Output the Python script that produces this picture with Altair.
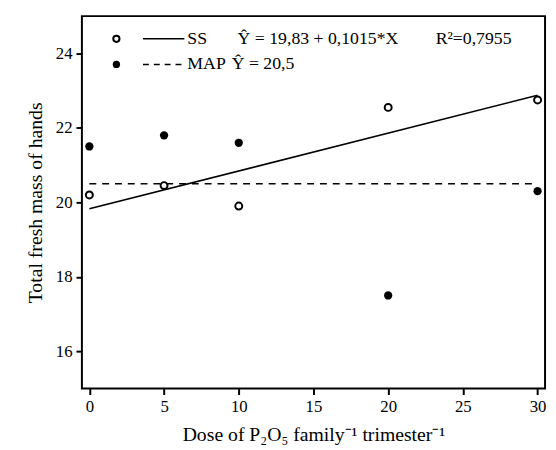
import altair as alt
import pandas as pd

doses = [0, 5, 10, 20, 30]
ss_values = [20.2, 20.45, 19.9, 22.55, 22.75]
map_values = [21.5, 21.8, 21.6, 17.5, 20.3]
fit_x = [0, 30]
ss_fit = [19.83, 22.875]
map_fit = [20.5, 20.5]
x_ticks = [0, 5, 10, 15, 20, 25, 30]
y_ticks = [16, 18, 20, 22, 24]

FONT = "Liberation Serif"

pts = pd.DataFrame({"x": doses, "ss": ss_values, "map": map_values})
fit = pd.DataFrame({"x": fit_x, "ss": ss_fit, "map": map_fit})

xs = alt.Scale(domain=[-0.5, 30.5], nice=False, zero=False)
ys = alt.Scale(domain=[15, 25], nice=False, zero=False)

xax = alt.Axis(values=x_ticks, title="Dose of P₂O₅ family⁻¹ trimester⁻¹", titlePadding=11)
yax = alt.Axis(values=y_ticks, title="Total fresh mass of hands", titlePadding=10)

X = alt.X("x:Q", scale=xs, axis=xax)

ss_line = alt.Chart(fit).mark_line(color="black", strokeWidth=1.7).encode(
    x=X, y=alt.Y("ss:Q", scale=ys, axis=yax))
map_line = alt.Chart(fit).mark_line(color="black", strokeWidth=1.7, strokeDash=[7, 6]).encode(
    x=X, y=alt.Y("map:Q", scale=ys))
ss_pts = alt.Chart(pts).mark_point(shape="circle", filled=True, fill="white", stroke="black",
                                    strokeWidth=2, size=50, opacity=1).encode(
    x=X, y=alt.Y("ss:Q", scale=ys))
map_pts = alt.Chart(pts).mark_point(shape="circle", filled=True, color="black", size=70, opacity=1).encode(
    x=X, y=alt.Y("map:Q", scale=ys))

# legend (inside plot, top-left)
leg = pd.DataFrame({"k": [0]})
base = alt.Chart(leg)
leg_open = base.mark_point(shape="circle", filled=True, fill="white", stroke="black",
                           strokeWidth=2, size=40, opacity=1).encode(x=alt.value(35), y=alt.value(23))
leg_fill = base.mark_point(shape="circle", filled=True, color="black", size=55, opacity=1).encode(
    x=alt.value(35), y=alt.value(49))
leg_l1 = base.mark_rule(color="black", strokeWidth=1.5).encode(
    x=alt.value(62), x2=alt.value(104), y=alt.value(23))
leg_l2 = base.mark_rule(color="black", strokeWidth=1.5, strokeDash=[6, 5]).encode(
    x=alt.value(62), x2=alt.value(104), y=alt.value(49))

def txt(s, x, y):
    return base.mark_text(text=s, font=FONT, fontSize=18, align="left", baseline="middle",
                          color="black").encode(x=alt.value(x), y=alt.value(y))

legend = [leg_open, leg_fill, leg_l1, leg_l2,
          txt("SS", 107, 23), txt("Ŷ = 19,83 + 0,1015*X", 158, 23), txt("R²=0,7955", 359, 23),
          txt("MAP", 107, 49), txt("Ŷ = 20,5", 152, 49)]

chart = alt.layer(ss_line, map_line, ss_pts, map_pts, *legend).properties(
    width=470, height=378,
    autosize=alt.AutoSizeParams(type="none"),
    padding={"left": 75, "top": 5, "right": 3, "bottom": 55},
).configure_view(stroke="black", strokeWidth=2).configure_axis(
    grid=False, domain=False, labelFont=FONT, titleFont=FONT, labelFontSize=17,
    titleFontSize=20, titleFontWeight="normal", labelColor="black", titleColor="black",
    tickColor="black", tickSize=6, tickWidth=2, labelPadding=4,
)

chart.save("out.html", embed_options={"renderer": "svg", "actions": False})
